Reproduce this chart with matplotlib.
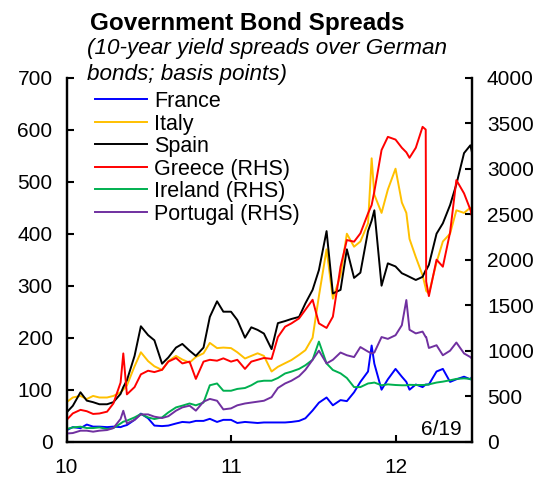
import matplotlib
matplotlib.use("Agg")
import matplotlib.pyplot as plt
import pandas as pd

plt.rcParams['font.family'] = ['Liberation Sans', 'DejaVu Sans']

# semi-monthly dates plus a few extra days around the big moves
dates = pd.date_range('2010-01-01', '2012-06-15', freq='SMS')
extra = pd.to_datetime(['2010-05-07', '2011-11-09', '2012-01-25',
                        '2012-03-08', '2012-03-09', '2012-06-19'])
dates = dates.append(extra).sort_values()

# left axis (bp)
france = [22, 28, 26, 33, 29, 29, 28, 29, 28, 30, 32, 42, 54, 45, 31, 30, 31, 35, 38, 37, 40, 40, 44, 38, 42,
          42, 36, 38, 37, 36, 37, 37, 37, 37, 38, 40, 45, 60, 75, 85, 70, 80, 78, 95, 115, 135, 185, 150, 100, 120,
          140, 125, 115, 100, 110, 105, 110, 110, 110, 135, 140, 115, 120, 125, 120, 125]
italy = [76, 85, 88, 82, 88, 85, 85, 88, 95, 100, 108, 145, 172, 155, 145, 138, 155, 165, 158, 152, 163, 170, 190, 180, 181,
         180, 172, 160, 165, 170, 165, 135, 144, 151, 157, 167, 176, 200, 280, 370, 275, 320, 400, 375, 385, 420, 545, 475, 440, 485,
         525, 460, 440, 390, 355, 320, 295, 290, 285, 345, 385, 400, 445, 440, 450, 440]
spain = [56, 69, 95, 79, 76, 72, 72, 76, 92, 105, 118, 165, 222, 205, 195, 150, 162, 181, 188, 175, 165, 181, 240, 270, 250,
         250, 234, 200, 220, 215, 208, 178, 228, 232, 236, 240, 266, 292, 330, 405, 285, 292, 370, 315, 325, 405, 425, 445, 300, 343,
         337, 324, 320, 317, 311, 317, 330, 330, 340, 400, 420, 455, 495, 555, 570, 555]

# right axis (bp)
greece = [238, 311, 350, 335, 305, 310, 330, 420, 650, 970, 520, 600, 740, 780, 765, 790, 880, 920, 860, 880, 690, 880, 900, 890, 916,
          880, 900, 800, 880, 900, 920, 910, 1150, 1264, 1300, 1355, 1450, 1560, 1300, 1250, 1374, 1923, 2216, 2198, 2289, 2509, 2600, 2750, 3205, 3350,
          3320, 3230, 3180, 3120, 3230, 3460, 3430, 1760, 1600, 2000, 1923, 2300, 2875, 2729, 2550, 2470]
ireland = [139, 157, 165, 150, 150, 157, 139, 150, 200, 220, 231, 267, 304, 267, 249, 267, 322, 377, 396, 420, 400, 430, 620, 640, 560,
           560, 580, 590, 620, 660, 670, 670, 700, 750, 770, 800, 840, 900, 1100, 860, 788, 751, 700, 600, 600, 640, 645, 650, 620, 630,
           623, 620, 620, 625, 623, 623, 625, 625, 630, 650, 660, 675, 690, 696, 690, 678]
portugal = [90, 95, 121, 121, 110, 121, 128, 150, 250, 340, 200, 240, 300, 300, 275, 260, 280, 341, 377, 396, 341, 440, 470, 450, 355,
            366, 400, 420, 430, 440, 450, 490, 590, 640, 670, 720, 790, 900, 1000, 860, 900, 980, 950, 930, 1040, 990, 970, 980, 1150, 1130,
            1170, 1280, 1557, 1230, 1190, 1210, 1150, 1150, 1030, 1060, 950, 1000, 1090, 970, 930, 910]

left_series = [('France', france, '#0000FF'), ('Italy', italy, '#FFC000'), ('Spain', spain, '#000000')]
right_series = [('Greece (RHS)', greece, '#FF0000'), ('Ireland (RHS)', ireland, '#00B050'),
                ('Portugal (RHS)', portugal, '#7030A0')]

fig = plt.figure(figsize=(5.48, 4.79), dpi=100)
ax = fig.add_axes([66.5 / 548, 37.3 / 479, 405.2 / 548, 364 / 479])
ax2 = ax.twinx()

for name, vals, col in left_series:
    ax.plot(dates, vals, color=col, lw=1.4, label=name)
for name, vals, col in right_series:
    ax2.plot(dates, vals, color=col, lw=1.4, label=name)

ax.set_xlim(pd.Timestamp('2010-01-01'), pd.Timestamp('2012-06-18'))
ax.set_ylim(0, 700)
ax2.set_ylim(0, 4000)
ax.set_yticks(range(0, 701, 100))
ax2.set_yticks(range(0, 4001, 500))
ax.set_xticks(pd.to_datetime(['2010-01-01', '2011-01-01', '2012-01-01']))
ax.set_xticklabels(['10', '11', '12'])

for a in (ax, ax2):
    a.spines['top'].set_visible(False)
    for s in a.spines.values():
        s.set_linewidth(1.6)
ax.tick_params(axis='y', direction='in', length=5, width=1.5, labelsize=15, pad=10)
ax.tick_params(axis='x', direction='in', length=5, width=1.5, labelsize=15, pad=12)
ax2.tick_params(axis='y', direction='in', length=5, width=1.5, labelsize=15, pad=11)

h1, l1 = ax.get_legend_handles_labels()
h2, l2 = ax2.get_legend_handles_labels()
ax2.legend(h1 + h2, l1 + l2, loc='upper left', bbox_to_anchor=(95 / 548, 1 - 91 / 479),
           bbox_transform=fig.transFigure, frameon=False, fontsize=15.5,
           handlelength=2.4, handletextpad=0.35, labelspacing=0.07,
           borderpad=0, borderaxespad=0)

fig.text(90 / 548, 1 - 30 / 479, 'Government Bond Spreads', fontsize=17.5,
         fontweight='bold', va='baseline')
fig.text(87 / 548, 1 - 54 / 479, '(10-year yield spreads over German', fontsize=16.2,
         style='italic', va='baseline')
fig.text(87 / 548, 1 - 80 / 479, 'bonds; basis points)', fontsize=16.2,
         style='italic', va='baseline')
fig.text(462 / 548, 1 - 435 / 479, '6/19', fontsize=15, ha='right', va='baseline')

fig.savefig('out.png', dpi=100)
